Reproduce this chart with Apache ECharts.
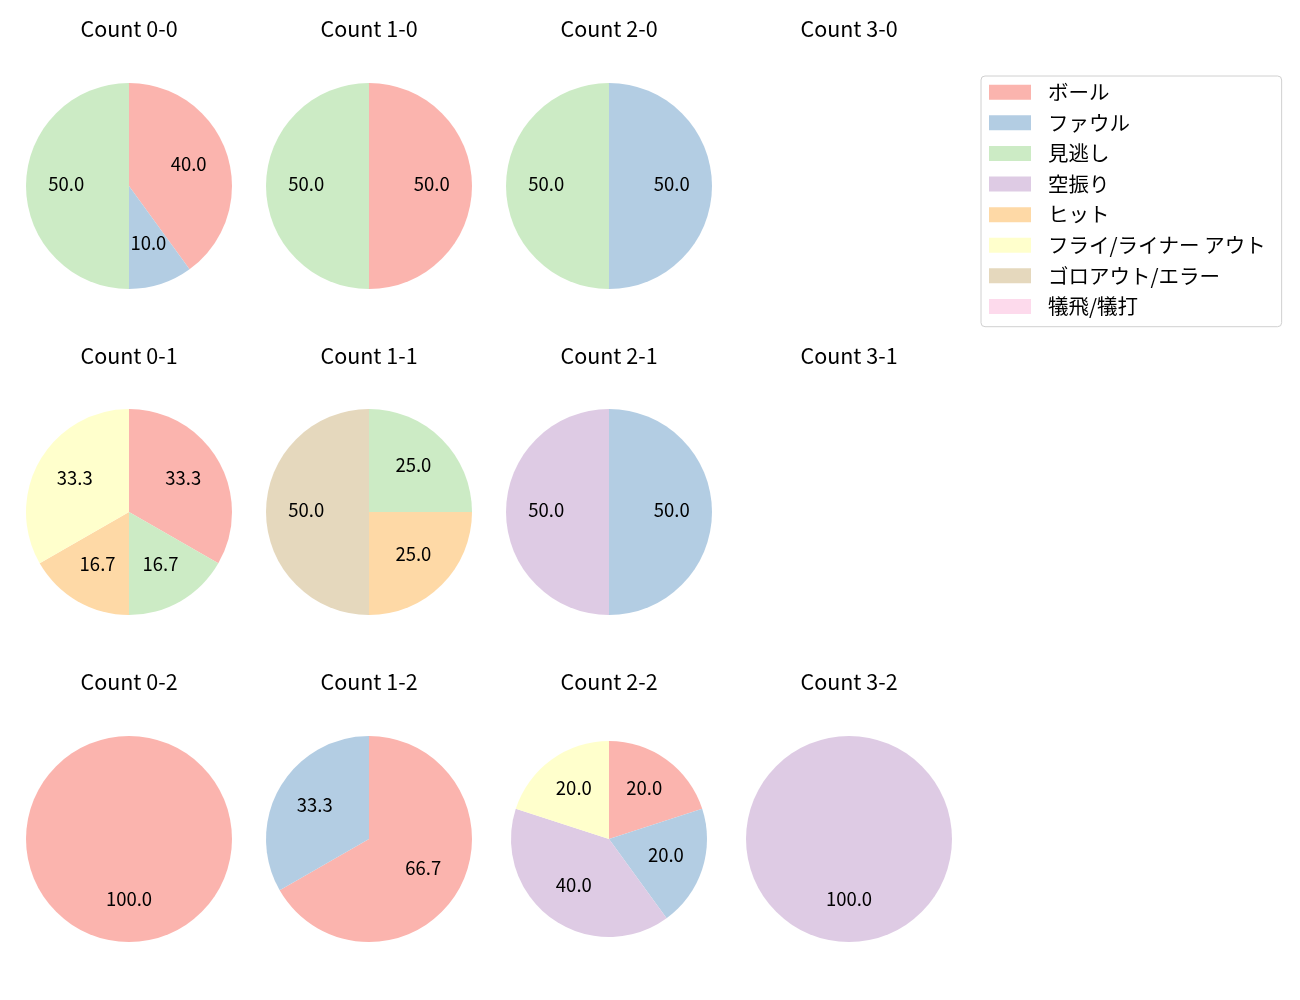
<!DOCTYPE html>
<html>
<head>
<meta charset="utf-8">
<script src="https://cdn.jsdelivr.net/npm/echarts@6/dist/echarts.min.js"></script>
<style>
html,body{margin:0;padding:0;background:#fff;}
#chart{width:1300px;height:1000px;}
</style>
</head>
<body>
<div id="chart"></div>
<script>
// Categories (legend order)
const categories = ['ボール', 'ファウル', '見逃し', '空振り', 'ヒット', 'フライ/ライナー アウト', 'ゴロアウト/エラー', '犠飛/犠打'];
const colors = ['#fbb4ae', '#b3cde3', '#ccebc5', '#decbe4', '#fed9a6', '#ffffcc', '#e5d8bd', '#fddaec'];

// Panel titles
const panelTitles = [
  ['Count 0-0', 'Count 1-0', 'Count 2-0', 'Count 3-0'],
  ['Count 0-1', 'Count 1-1', 'Count 2-1', 'Count 3-1'],
  ['Count 0-2', 'Count 1-2', 'Count 2-2', 'Count 3-2']
];

// Percentages per count, in category order (null = no data for that count)
const count00 = [40, 10, 50, 0, 0, 0, 0, 0];
const count10 = [50, 0, 50, 0, 0, 0, 0, 0];
const count20 = [0, 50, 50, 0, 0, 0, 0, 0];
const count30 = null;
const count01 = [33.3, 0, 16.7, 0, 16.7, 33.3, 0, 0];
const count11 = [0, 0, 25, 0, 25, 0, 50, 0];
const count21 = [0, 50, 0, 50, 0, 0, 0, 0];
const count31 = null;
const count02 = [100, 0, 0, 0, 0, 0, 0, 0];
const count12 = [66.7, 33.3, 0, 0, 0, 0, 0, 0];
const count22 = [20, 20, 0, 40, 0, 20, 0, 0];
const count32 = [0, 0, 0, 100, 0, 0, 0, 0];

const grid = [
  [count00, count10, count20, count30],
  [count01, count11, count21, count31],
  [count02, count12, count22, count32]
];

const FONT = '"Noto Sans CJK JP", "Noto Sans", sans-serif';
const colX = [129, 369, 609, 849];
const rowY = [186, 512, 839];
const titleY = [13, 340, 666];

const titles = [];
const series = [];
for (let r = 0; r < 3; r++) {
  for (let c = 0; c < 4; c++) {
    titles.push({
      text: panelTitles[r][c],
      left: colX[c] - 5, top: titleY[r], textAlign: 'center',
      textStyle: { fontFamily: FONT, fontSize: 21.5, fontWeight: 'normal', color: '#000' }
    });
    const vals = grid[r][c];
    if (!vals) continue;
    const R = (r === 2 && c === 2) ? 98 : 103;
    const data = categories.map((name, i) => ({ name: name, value: vals[i], itemStyle: { color: colors[i] } }));
    series.push({
      type: 'pie', center: [colX[c], rowY[r]], radius: [0, R],
      startAngle: 90, clockwise: true, silent: true, animation: false,
      label: { show: false }, labelLine: { show: false },
      itemStyle: { borderWidth: 0 },
      data: data
    });
    series.push({
      type: 'pie', center: [colX[c], rowY[r]], radius: [R * 0.16, R],
      startAngle: 90, clockwise: true, silent: true, animation: false,
      itemStyle: { color: 'rgba(0,0,0,0)', borderWidth: 0 },
      labelLine: { show: false },
      labelLayout: { dy: -2.5 },
      label: {
        show: true, position: 'inside', fontFamily: FONT, fontSize: 18.5, color: '#000',
        formatter: p => p.value > 0 ? p.value.toFixed(1) : ''
      },
      data: categories.map((name, i) => ({ name: name, value: vals[i] }))
    });
  }
}

const chart = echarts.init(document.getElementById('chart'), null, { renderer: 'canvas' });
chart.setOption({
  backgroundColor: '#fff',
  animation: false,
  title: titles,
  legend: {
    orient: 'vertical', left: 981, top: 76,
    data: categories,
    itemWidth: 42, itemHeight: 15, itemGap: 10.1,
    icon: 'rect',
    padding: [6, 16, 10, 8],
    borderColor: '#d0d0d0', borderWidth: 1, borderRadius: 4,
    selectedMode: false,
    textStyle: { fontFamily: FONT, fontSize: 20.5, color: '#000', padding: [0, 0, 0, 12] }
  },
  series: series
});
</script>
</body>
</html>
